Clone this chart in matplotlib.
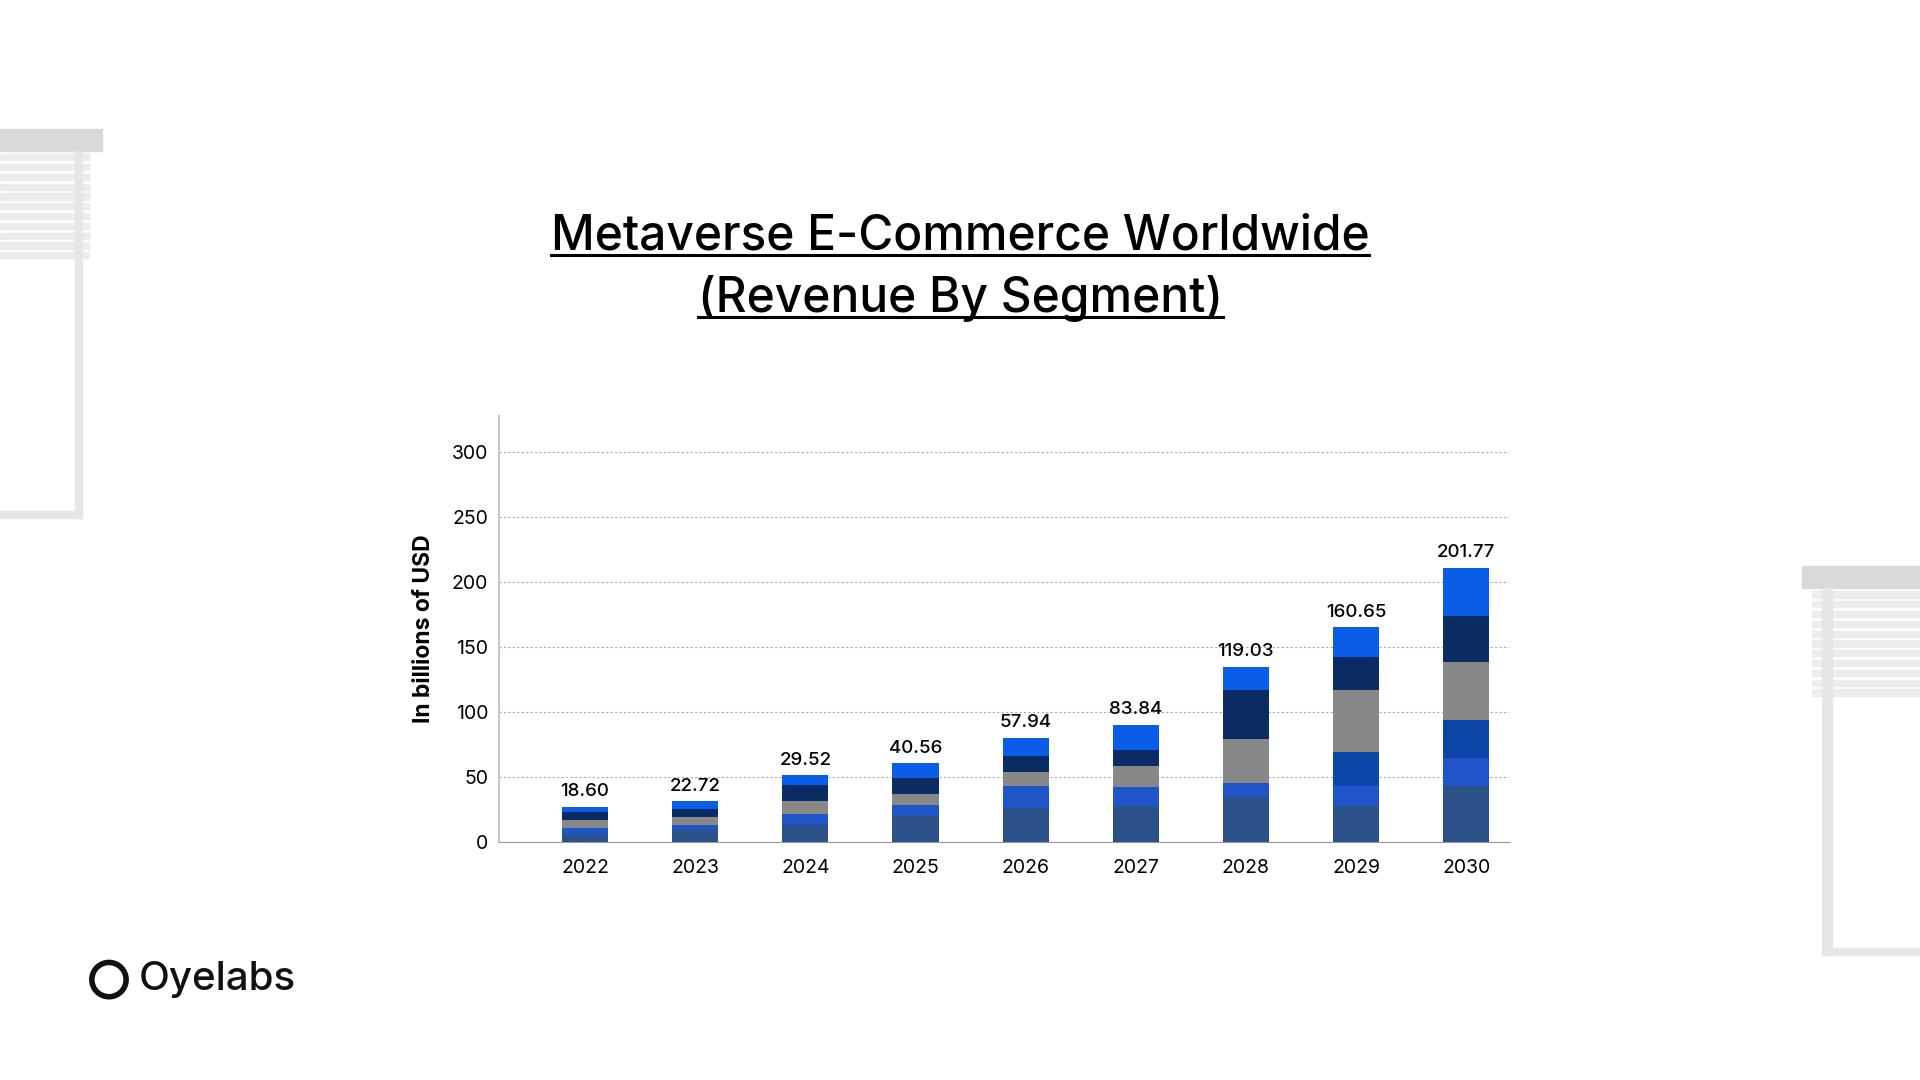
import matplotlib.pyplot as plt
import numpy as np
from matplotlib.patches import Rectangle, Circle

years = ["2022", "2023", "2024", "2025", "2026", "2027", "2028", "2029", "2030"]
labels = ["18.60", "22.72", "29.52", "40.56", "57.94", "83.84", "119.03", "160.65", "201.77"]

seg_slate = [5.6, 9.7, 13.6, 20.0, 26.7, 28.2, 34.6, 27.7, 43.6]
seg_mid = [5.4, 3.6, 8.2, 8.7, 16.6, 14.6, 11.0, 15.9, 21.3]
seg_dark = [0, 0, 0, 0, 0, 0, 0, 26.1, 29.2]
seg_grey = [6.2, 6.4, 10.0, 8.5, 10.8, 16.2, 33.9, 47.5, 44.9]
seg_navy = [6.1, 5.9, 12.3, 12.3, 12.3, 12.3, 37.4, 25.6, 35.1]
seg_bright = [4.1, 6.2, 7.7, 11.5, 13.9, 19.0, 18.0, 22.8, 36.9]

segments = [seg_slate, seg_mid, seg_dark, seg_grey, seg_navy, seg_bright]
colors = ["#2c5088", "#1f55c8", "#0b45a6", "#888888", "#0b2b63", "#0a5de6"]

plt.rcParams["font.family"] = "Inter"
fig = plt.figure(figsize=(19.2, 10.8), dpi=100)

# background decoration layer (coordinates in reference pixel space 1568x882)
bg = fig.add_axes([0, 0, 1, 1], zorder=0)
bg.set_xlim(0, 1568)
bg.set_ylim(882, 0)
bg.axis("off")
lg = "#e6e6e6"
bg.add_patch(Rectangle((0, 105), 83, 18, color="#d9d9d9"))
for y in range(126, 208, 8):
    bg.add_patch(Rectangle((0, y), 73, 5, color="#ececec"))
bg.add_patch(Rectangle((61, 123), 6, 300, color=lg))
bg.add_patch(Rectangle((0, 417), 67, 6, color=lg))
bg.add_patch(Rectangle((1472, 462), 96, 18, color="#d9d9d9"))
for y in range(483, 565, 8):
    bg.add_patch(Rectangle((1480, y), 88, 5, color="#ececec"))
bg.add_patch(Rectangle((1488, 480), 8, 300, color=lg))
bg.add_patch(Rectangle((1490, 774), 78, 6, color=lg))
# logo
bg.add_patch(Circle((89, 800), 14, fill=False, lw=4, color="#111111"))
bg.text(113, 800, "Oyelabs", fontsize=29, va="center", ha="left", color="#111111",
        fontweight="medium")

ax = fig.add_axes([0.260, 0.220, 0.526, 0.395], zorder=1)
ax.patch.set_alpha(0)
x = np.arange(len(years))
bottom = np.zeros(len(years))
for seg, c in zip(segments, colors):
    ax.bar(x, seg, bottom=bottom, width=0.42, color=c, zorder=3)
    bottom += np.array(seg)
for xi, top, lab in zip(x, bottom, labels):
    ax.text(xi, top + 5, lab, ha="center", va="bottom", fontsize=13.5, fontweight="medium")

ax.set_xlim(-0.78, 8.39)
ax.set_ylim(0, 328)
ax.set_yticks([0, 50, 100, 150, 200, 250, 300])
ax.set_xticks(x)
ax.set_xticklabels(years)
ax.tick_params(length=0, labelsize=14, pad=12)
ax.tick_params(axis="y", pad=8)
ax.yaxis.grid(True, linestyle=(0, (2, 2)), color="#aaaaaa", lw=0.8, zorder=0)
for s in ["top", "right"]:
    ax.spines[s].set_visible(False)
ax.spines["left"].set_color("#c8c8c8")
ax.spines["bottom"].set_color("#999999")
ax.spines["left"].set_linewidth(1.5)
ax.set_ylabel("In billions of USD", fontsize=16.5, fontweight="bold", labelpad=12)

t1 = fig.text(0.5, 0.781, "Metaverse E-Commerce Worldwide", ha="center", va="center",
              fontsize=34.5, fontweight="medium")
t2 = fig.text(0.5, 0.724, "(Revenue By Segment)", ha="center", va="center",
              fontsize=34.5, fontweight="medium")
fig.canvas.draw()
r = fig.canvas.get_renderer()
for t in (t1, t2):
    bb = t.get_window_extent(r).transformed(fig.transFigure.inverted())
    fig.add_artist(plt.Line2D([bb.x0, bb.x1], [bb.y0 + 0.004, bb.y0 + 0.004],
                              color="black", lw=2.2, transform=fig.transFigure))

fig.savefig("out.png", dpi=100, facecolor="white")
